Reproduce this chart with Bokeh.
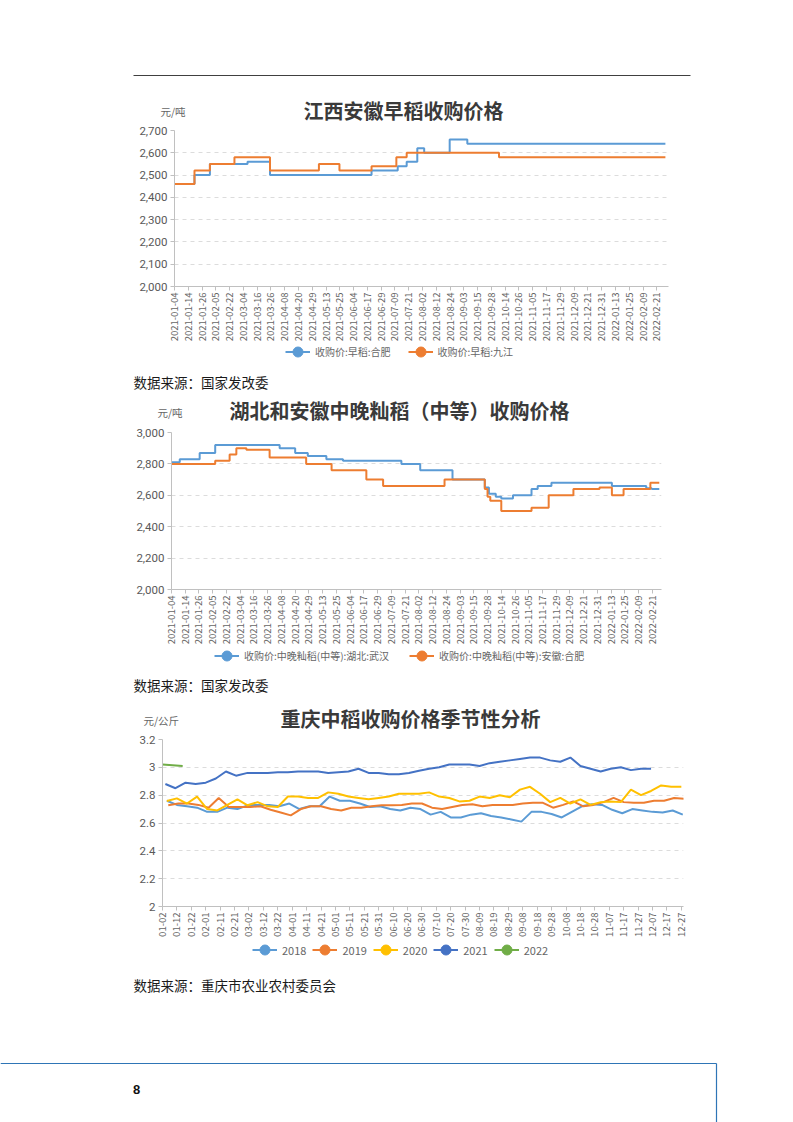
import math
import pandas as pd
from bokeh.plotting import figure
from bokeh.layouts import column
from bokeh.models import (Label, Legend, LegendItem, FixedTicker,
                          NumeralTickFormatter, Range1d)
from bokeh.embed import file_html
from bokeh.resources import INLINE

CJK = "Noto Sans CJK SC"
NUM = "Roboto"
PAGE_W = 793
TITLE_C = "#3a3a3a"
TICK_C = "#666666"
AXIS_C = "#c0c0c0"
BLUE = "#5B9BD5"
ORANGE = "#ED7D31"
NAN = float("nan")

# ---------------- data: chart 1 (江西安徽早稻收购价格) ----------------
date_labels = ["2021-01-04", "2021-01-14", "2021-01-26", "2021-02-05", "2021-02-22",
               "2021-03-04", "2021-03-16", "2021-03-26", "2021-04-08", "2021-04-20",
               "2021-04-29", "2021-05-13", "2021-05-25", "2021-06-04", "2021-06-17",
               "2021-06-29", "2021-07-09", "2021-07-21", "2021-08-02", "2021-08-12",
               "2021-08-24", "2021-09-03", "2021-09-15", "2021-09-28", "2021-10-14",
               "2021-10-26", "2021-11-05", "2021-11-17", "2021-11-29", "2021-12-09",
               "2021-12-21", "2021-12-31", "2022-01-13", "2022-01-25", "2022-02-09",
               "2022-02-21"]
# x in units of label positions (one label every 8 trading days)
c1_hefei_x = [0, 1.45, 2.57, 5.3, 6.93, 14.3, 16.2, 16.85, 17.62, 18.12, 19.97, 21.25, 35.625]
c1_hefei_y = [2460, 2500, 2550, 2560, 2500, 2520, 2540, 2560, 2620, 2600, 2660, 2640, 2640]
c1_jiujiang_x = [0, 1.45, 2.57, 4.35, 6.93, 10.48, 11.97, 14.3, 16.1, 16.85, 23.55, 35.625]
c1_jiujiang_y = [2460, 2520, 2550, 2580, 2520, 2550, 2520, 2540, 2580, 2600, 2580, 2580]
c1_yticks = [2000, 2100, 2200, 2300, 2400, 2500, 2600, 2700]

# ---------------- data: chart 2 (湖北和安徽中晚籼稻) ----------------
c2_wuhan_x = [0, 0.6, 2.05, 3.18, 7.87, 9.0, 9.92, 11.27, 12.48, 16.73, 18.1, 20.45,
              22.8, 23.1, 23.6, 24.0, 24.85, 26.2, 26.65, 27.65, 32.05, 34.55, 34.95, 35.5]
c2_wuhan_y = [2810, 2830, 2870, 2920, 2900, 2870, 2850, 2830, 2820, 2800, 2760, 2700,
              2650, 2610, 2590, 2580, 2600, 2640, 2660, 2680, 2660, 2645, 2640, 2640]
c2_hefei_x = [0, 3.18, 4.23, 4.72, 5.45, 7.14, 9.8, 11.65, 14.18, 15.4, 19.87, 22.8,
              23.0, 23.2, 24.0, 26.2, 27.45, 29.25, 31.15, 32.05, 32.9, 34.85, 35.5]
c2_hefei_y = [2800, 2820, 2860, 2900, 2890, 2840, 2800, 2760, 2700, 2660, 2700, 2640,
              2590, 2565, 2500, 2520, 2600, 2640, 2650, 2600, 2640, 2680, 2680]
c2_yticks = [2000, 2200, 2400, 2600, 2800, 3000]

# ---------------- data: chart 3 (重庆中稻季节性) ----------------
season_labels = ["01-02", "01-12", "01-22", "02-01", "02-11", "02-21", "03-02", "03-12",
                 "03-22", "04-01", "04-11", "04-21", "05-01", "05-11", "05-21", "05-31",
                 "06-10", "06-20", "06-30", "07-10", "07-20", "07-30", "08-09", "08-19",
                 "08-29", "09-08", "09-18", "09-28", "10-08", "10-18", "10-28", "11-07",
                 "11-17", "11-27", "12-07", "12-17", "12-27"]
y2018 = [2.76, 2.73, 2.72, 2.71, 2.68, 2.68, 2.71, 2.70, 2.73, 2.73,
         2.73, 2.72, 2.74, 2.70, 2.72, 2.72, 2.79, 2.76, 2.76, 2.74,
         2.715, 2.72, 2.70, 2.69, 2.71, 2.70, 2.66, 2.68, 2.64, 2.64,
         2.66, 2.67, 2.65, 2.64, 2.625, 2.61, 2.68, 2.68, 2.665, 2.64,
         2.68, 2.72, 2.735, 2.73, 2.695, 2.67, 2.70, 2.69, 2.68, 2.675,
         2.69, 2.66]
y2019 = [2.727, 2.74, 2.74, 2.73, 2.71, 2.78, 2.715, 2.715, 2.715, 2.72,
         2.695, 2.675, 2.655, 2.70, 2.72, 2.72, 2.70, 2.69, 2.71, 2.71,
         2.72, 2.727, 2.727, 2.73, 2.74, 2.74, 2.71,
         2.70, 2.715, 2.73, 2.735, 2.72, 2.73, 2.73, 2.73, 2.74, 2.745,
         2.745, 2.71, 2.73, 2.755, 2.72, 2.73, 2.75, 2.78, 2.75, 2.745,
         2.745, 2.76, 2.76, 2.78, 2.775]
y2020 = [2.758, 2.777, 2.74, 2.79, 2.70, 2.69, 2.73, 2.77, 2.727, 2.75,
         2.72, 2.715, 2.79, 2.79, 2.78, 2.78, 2.82, 2.81, 2.79, 2.78,
         2.77, 2.78, 2.79, 2.81, 2.81, 2.81, 2.82,
         2.79, 2.78, 2.755, 2.76, 2.79, 2.78, 2.80, 2.785, 2.84, 2.86,
         2.81, 2.75, 2.78, 2.74, 2.77, 2.73, 2.75, 2.755, 2.75, 2.84,
         2.80, 2.83, 2.87, 2.86, 2.86]
y2021 = [2.88, 2.85, 2.89, 2.88, 2.89, 2.92, 2.97, 2.94, 2.96, 2.96,
         2.96, 2.965, 2.965, 2.97, 2.97, 2.97, 2.96, 2.965, 2.97, 2.99,
         2.96, 2.96, 2.95, 2.95, 2.96, 2.975, 2.99, 3.0, 3.02, 3.02,
         3.02, 3.01, 3.03, 3.04, 3.05, 3.06, 3.07, 3.07, 3.05, 3.04,
         3.07, 3.01, 2.99, 2.97, 2.99, 3.0, 2.98, 2.99, 2.99]
y2022 = [3.02, 3.015, 3.01]
season_years = ["2018", "2019", "2020", "2021", "2022"]
season_starts = {"2018": "2018-01-05", "2019": "2019-01-06", "2020": "2020-01-05",
                 "2021": "2021-01-04", "2022": "2022-01-02"}
season_values = {"2018": y2018, "2019": y2019, "2020": y2020, "2021": y2021, "2022": y2022}
season_colors = {"2018": "#5B9BD5", "2019": "#ED7D31", "2020": "#FFC000",
                 "2021": "#4472C4", "2022": "#70AD47"}
c3_yticks = [2.0, 2.2, 2.4, 2.6, 2.8, 3.0, 3.2]


def season_pos(start, n):
    dates = pd.date_range(start, periods=n, freq="7D")
    return [(pd.Timestamp(2020, d.month, d.day) - pd.Timestamp(2020, 1, 2)).days / 10.0
            for d in dates]


def make_fig(h, left, right, top, bottom, xr, yr, axes=True):
    kw = {}
    if not axes:
        kw = dict(x_axis_location=None, y_axis_location=None)
    p = figure(width=PAGE_W, height=h, x_range=xr, y_range=yr,
               min_border_left=left, min_border_right=right,
               min_border_top=top, min_border_bottom=bottom,
               toolbar_location=None, output_backend="svg", title=None, **kw)
    p.frame_align = False
    p.outline_line_color = None
    p.background_fill_color = "white"
    p.border_fill_color = "white"
    if not axes:
        p.grid.visible = False
    return p


def strip(y0, y1):
    """Text strip whose data coordinates equal the page pixel coordinates."""
    return make_fig(y1 - y0, 0, 0, 0, 0, Range1d(0, PAGE_W), Range1d(y1, y0), axes=False)


def style_chart(p, xticks, xlabels, yticks, yfmt, xfont="9.5px"):
    p.xaxis.ticker = FixedTicker(ticks=xticks)
    p.xaxis.major_label_overrides = {t: l for t, l in zip(xticks, xlabels)}
    p.xaxis.major_label_orientation = math.pi / 2
    p.xaxis.major_label_text_font_size = xfont
    p.xaxis.major_label_text_color = TICK_C
    p.xaxis.major_label_text_font = CJK
    p.xaxis.major_label_standoff = 2
    for ax in (p.xaxis, p.yaxis):
        ax.minor_tick_line_color = None
        ax.major_tick_in = 0
        ax.major_tick_out = 4
        ax.axis_line_color = AXIS_C
        ax.major_tick_line_color = AXIS_C
    p.yaxis.ticker = FixedTicker(ticks=yticks)
    p.yaxis.formatter = NumeralTickFormatter(format=yfmt)
    p.yaxis.major_label_text_font_size = "11.5px"
    p.yaxis.major_label_text_color = "#595959"
    p.yaxis.major_label_text_font = NUM
    p.yaxis.major_label_standoff = 3
    p.xgrid.visible = False
    p.ygrid.grid_line_dash = "4 4"
    p.ygrid.grid_line_color = "#dcdcdc"


def add_text(p, x, y, text, size, color, bold=False, align="left", font=CJK):
    p.add_layout(Label(x=x, y=y, text=text, text_font=font, text_font_size=size,
                       text_color=color, text_font_style="bold" if bold else "normal",
                       text_align=align, text_baseline="middle"))


def add_legend(p, labels, colors, loc, spacing, font="10px"):
    items = []
    for lab, col in zip(labels, colors):
        ln = p.line([NAN], [NAN], line_width=2, color=col)
        dot = p.scatter([NAN], [NAN], marker="circle", color=col)
        items.append(LegendItem(label=lab, renderers=[ln, dot]))
    lg = Legend(items=items, location=loc, orientation="horizontal",
                glyph_width=25, glyph_height=25, label_height=25, label_standoff=5,
                spacing=spacing, padding=0, margin=0, border_line_color=None,
                background_fill_alpha=0, label_text_font_size=font,
                label_text_color=TICK_C, label_text_font=CJK)
    p.add_layout(lg)


SRC_FONT = "13.5px"
SRC_C = "#1a1a1a"
TITLE_FONT = "20px"

# ---------------- strip A: header rule + chart 1 title ----------------
sA = strip(0, 123)
sA.segment(x0=[133], y0=[75], x1=[690], y1=[75], line_color="#404040", line_width=1)
add_text(sA, 160, 111, "元/吨", "10.5px", TICK_C)
add_text(sA, 403, 109.5, "江西安徽早稻收购价格", TITLE_FONT, TITLE_C, bold=True, align="center")

# ---------------- chart 1 ----------------
x1_ticks = list(range(len(date_labels)))
p1 = make_fig(221, 174, 125, 7, 57, Range1d(0, 35.85), Range1d(2000, 2700))
style_chart(p1, x1_ticks, date_labels, c1_yticks, "0,0")
p1.step(c1_hefei_x, c1_hefei_y, mode="after", line_width=2, color=BLUE)
p1.step(c1_jiujiang_x, c1_jiujiang_y, mode="after", line_width=2, color=ORANGE)

# ---------------- strip B: legend 1, source 1, chart 2 title ----------------
sB = strip(344, 424)
add_legend(sB, ["收购价:早稻:合肥", "收购价:早稻:九江"], [BLUE, ORANGE], (285, 60), 17)
add_text(sB, 133, 381, "数据来源：国家发改委", SRC_FONT, SRC_C)
add_text(sB, 157, 412, "元/吨", "10.5px", TICK_C)
add_text(sB, 399, 410, "湖北和安徽中晚籼稻（中等）收购价格", TITLE_FONT, TITLE_C, bold=True, align="center")

# ---------------- chart 2 ----------------
p2 = make_fig(223, 171, 132, 8, 58, Range1d(0, 35.66), Range1d(2000, 3000))
style_chart(p2, x1_ticks, date_labels, c2_yticks, "0,0")
p2.step(c2_wuhan_x, c2_wuhan_y, mode="after", line_width=2, color=BLUE)
p2.step(c2_hefei_x, c2_hefei_y, mode="after", line_width=2, color=ORANGE)

# ---------------- strip C: legend 2, source 2, chart 3 title ----------------
sC = strip(647, 732)
add_legend(sC, ["收购价:中晚籼稻(中等):湖北:武汉", "收购价:中晚籼稻(中等):安徽:合肥"],
           [BLUE, ORANGE], (214, 64), 20)
add_text(sC, 133, 684, "数据来源：国家发改委", SRC_FONT, SRC_C)
add_text(sC, 143, 720, "元/公斤", "10.5px", TICK_C)
add_text(sC, 410, 718, "重庆中稻收购价格季节性分析", TITLE_FONT, TITLE_C, bold=True, align="center")

# ---------------- chart 3 ----------------
x3_ticks = list(range(len(season_labels)))
p3 = make_fig(208, 162, 110, 7, 34, Range1d(0, 36.15), Range1d(2, 3.2))
style_chart(p3, x3_ticks, season_labels, c3_yticks, "0.[0]")
for yr in season_years:
    vals = season_values[yr]
    p3.line(season_pos(season_starts[yr], len(vals)), vals, line_width=2,
            color=season_colors[yr])

# ---------------- strip D: legend 3, source 3, footer ----------------
sD = strip(940, 1122)
add_legend(sD, season_years, [season_colors[y] for y in season_years], (252, 160), 6,
           font="11px")
add_text(sD, 133, 984, "数据来源：重庆市农业农村委员会", SRC_FONT, SRC_C)
sD.segment(x0=[0, 716], y0=[1063, 1063], x1=[716, 716], y1=[1063, 1122],
           line_color="#2E75B6", line_width=1.2)
add_text(sD, 136, 1089, "8", "13px", "#111111", bold=True, align="center",
         font="Liberation Sans")

page = column(sA, p1, sB, p2, sC, p3, sD, spacing=0)
open("out.html", "w").write(file_html(page, INLINE))
